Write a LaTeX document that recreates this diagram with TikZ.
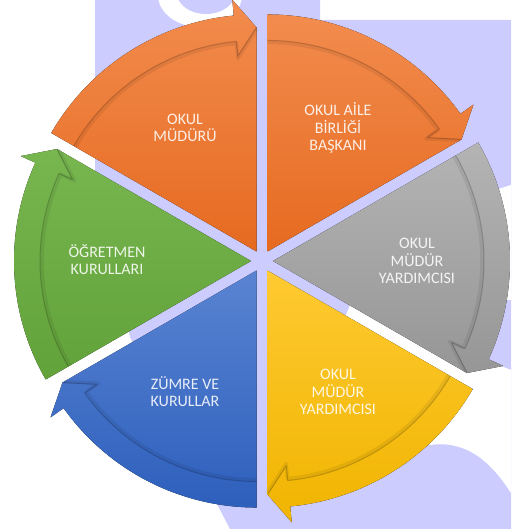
\documentclass[tikz,border=0pt]{standalone}
\usepackage{fontspec}
\setmainfont{Carlito}
\usetikzlibrary{calc}
\definecolor{lav}{RGB}{204,204,255}
\definecolor{orT}{RGB}{242,140,78}
\definecolor{orB}{RGB}{230,106,32}
\definecolor{grT}{RGB}{180,180,180}
\definecolor{grB}{RGB}{150,150,150}
\definecolor{yeT}{RGB}{255,202,50}
\definecolor{yeB}{RGB}{240,180,0}
\definecolor{blT}{RGB}{90,132,210}
\definecolor{blB}{RGB}{45,95,188}
\definecolor{gnT}{RGB}{120,182,80}
\definecolor{gnB}{RGB}{98,162,58}
\tikzset{
  shadowsoft/.style={draw=black, draw opacity=0.07, line width=3.5pt, line join=round},
  shadowhard/.style={draw=black, draw opacity=0.20, line width=1pt, line join=round},
  lbl/.style={text=white, text opacity=0.88, align=center, inner sep=0pt,
              font=\fontsize{16}{17.5}\selectfont}
}
% #1 = counter-clockwise end angle of the segment (arrow tail), #2 top colour, #3 bottom colour
\newcommand\cycseg[3]{%
  \coordinate (O) at ($(C)+(#1-30:11)$);
  \fill[top color=#2, bottom color=#3]
    (O) -- ($(O)+(#1-60:224)$) -- ($(O)+(#1-54.5:253)$) -- ($(O)+(#1-54.5:237)$)
    arc[start angle=#1-54.5, end angle=#1, radius=237] -- cycle;
  \draw[shadowsoft] ($(O)+(#1:209)$) arc[start angle=#1, end angle=#1-54.5, radius=209]
    -- ($(O)+(#1-54.5:194)$) -- ($(O)+(#1-60:222)$);
  \draw[shadowhard] ($(O)+(#1:211)$) arc[start angle=#1, end angle=#1-54.5, radius=211]
    -- ($(O)+(#1-54.5:196)$) -- ($(O)+(#1-60:224)$);
}
\begin{document}
\begin{tikzpicture}[x=1pt,y=1pt]
\useasboundingbox (0,0) rectangle (511,529);
\begin{scope}
  \clip (0,0) rectangle (511,529);
  \fill[white] (0,0) rectangle (511,529);
  % watermark
  \fill[lav] (95,529) -- (320,529) -- (320,509) -- (511,509) -- (511,0) -- (230,0)
    -- (130,192) -- (95,359) -- cycle;
  \fill[white] (200,534) ellipse[x radius=42, y radius=32];
  \fill[lav] (206,536) ellipse[x radius=29, y radius=21];
  \fill[white] (511,344) -- (480,334) -- (480,229) -- (511,229) -- cycle;
  \fill[white] (350,224) -- (511,159) -- (511,36) .. controls (490,69) and (465,89) .. (430,84)
    -- (340,199) -- cycle;
\end{scope}
\coordinate (C) at (262,268);
\cycseg{150}{orT}{orB}
\cycseg{90}{orT}{orB}
\cycseg{30}{grT}{grB}
\cycseg{-30}{yeT}{yeB}
\cycseg{-90}{blT}{blB}
\cycseg{-150}{gnT}{gnB}
\node[lbl] (mudur) at (185,401) {OKUL\\MÜDÜRÜ};
\node[lbl] (aile) at (338,401) {OKUL AİLE\\BİRLİĞİ\\BAŞKANI};
\node[lbl] (yard1) at (417,268) {OKUL\\MÜDÜR\\YARDIMCISI};
\node[lbl] (yard2) at (338,137) {OKUL\\MÜDÜR\\YARDIMCISI};
\node[lbl] (zumre) at (185,137.5) {ZÜMRE VE\\KURULLAR};
\node[lbl] (ogret) at (107,269.5) {ÖĞRETMEN\\KURULLARI};
\end{tikzpicture}
\end{document}
